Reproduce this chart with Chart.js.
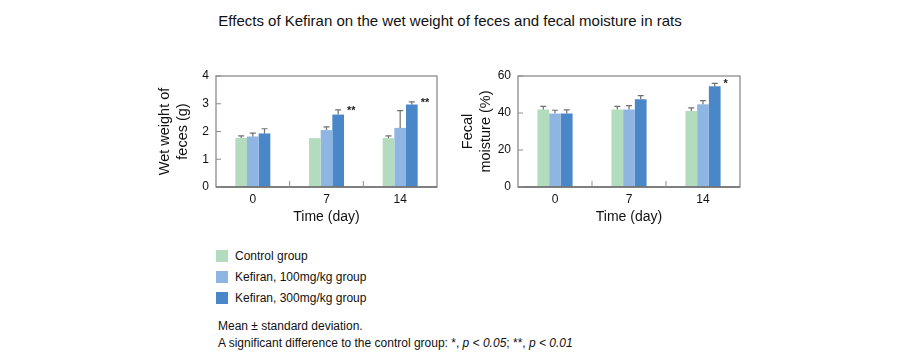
<!DOCTYPE html>
<html>
<head>
<meta charset="utf-8">
<script src="https://cdn.jsdelivr.net/npm/chart.js@4.4.1/dist/chart.umd.min.js"></script>
<style>
  html, body { margin:0; padding:0; background:#fff; width:900px; height:361px; overflow:hidden;
    font-family:"Liberation Sans", Arial, sans-serif; color:#111; }
  #title { position:absolute; left:0; top:11px; width:900px; text-align:center; font-size:15px; line-height:20px; }
  .cv { position:absolute; }
  #c1 { left:130px; top:56px; }
  #c2 { left:440px; top:56px; }
  #legend { position:absolute; left:216px; top:245px; font-size:12px; }
  .li { height:21px; display:flex; align-items:center; }
  .sw { width:12px; height:12px; margin-right:7px; }
  #note { position:absolute; left:218px; top:318px; font-size:12px; line-height:17px; }
</style>
</head>
<body>
<div id="title">Effects of Kefiran on the wet weight of feces and fecal moisture in rats</div>
<canvas id="c1" class="cv" width="320" height="174" style="width:320px;height:174px"></canvas>
<canvas id="c2" class="cv" width="320" height="174" style="width:320px;height:174px"></canvas>
<div id="legend"></div>
<div id="note">Mean ± standard deviation.<br>A significant difference to the control group: *, <i>p &lt; 0.05</i>; **, <i>p &lt; 0.01</i></div>
<script>
// ---- data ----
const days = ['0', '7', '14'];
const groupNames = ['Control group', 'Kefiran, 100mg/kg group', 'Kefiran, 300mg/kg group'];
const groupColors = ['#b3dcbf', '#8fb6e2', '#4a87c9'];

const weightControl = [1.77, 1.76, 1.76];
const weight100     = [1.82, 2.05, 2.13];
const weight300     = [1.93, 2.61, 2.97];
const weightControlSD = [0.07, 0.0, 0.08];
const weight100SD     = [0.12, 0.12, 0.62];
const weight300SD     = [0.17, 0.17, 0.10];
const weightSig = ['', '**', '**'];
const weightTicks = [0, 1, 2, 3, 4];

const moistControl = [41.9, 41.9, 41.1];
const moist100     = [39.7, 41.9, 44.7];
const moist300     = [39.7, 47.4, 54.4];
const moistControlSD = [1.7, 1.7, 1.7];
const moist100SD     = [1.8, 2.1, 2.0];
const moist300SD     = [2.0, 2.0, 1.6];
const moistSig = ['', '', '*'];
const moistTicks = [0, 20, 40, 60];

// ---- legend ----
const lg = document.getElementById('legend');
groupNames.forEach((n, i) => {
  const d = document.createElement('div'); d.className = 'li';
  d.innerHTML = '<span class="sw" style="background:' + groupColors[i] + '"></span><span>' + n + '</span>';
  lg.appendChild(d);
});

const FONT = '"Liberation Sans", Arial, sans-serif';

const framePlugin = {
  id: 'frame',
  afterDatasetsDraw(chart, args, opts) {
    const ctx = chart.ctx, a = chart.chartArea;
    const xs = chart.scales.x, ys = chart.scales.y;
    ctx.save();
    // error bars
    ctx.strokeStyle = '#707070';
    ctx.lineWidth = 1.2;
    chart.data.datasets.forEach((ds, di) => {
      const meta = chart.getDatasetMeta(di);
      meta.data.forEach((el, i) => {
        const sd = ds.sd[i];
        if (!sd) return;
        const y0 = ys.getPixelForValue(ds.data[i]);
        const y1 = ys.getPixelForValue(ds.data[i] + sd);
        ctx.beginPath();
        ctx.moveTo(el.x, y0); ctx.lineTo(el.x, y1);
        ctx.moveTo(el.x - 3, y1); ctx.lineTo(el.x + 3, y1);
        ctx.stroke();
      });
    });
    // significance marks
    const last = chart.data.datasets.length - 1;
    const lds = chart.data.datasets[last];
    const lmeta = chart.getDatasetMeta(last);
    ctx.fillStyle = '#222';
    ctx.font = 'bold 11px ' + FONT;
    ctx.textBaseline = 'middle';
    ctx.textAlign = 'left';
    opts.sig.forEach((s, i) => {
      if (!s) return;
      const el = lmeta.data[i];
      const y = ys.getPixelForValue(lds.data[i] + lds.sd[i]);
      ctx.fillText(s, el.x + el.width / 2 + 3, y + 1);
    });
    // frame
    ctx.strokeStyle = '#8c8c8c';
    ctx.lineWidth = 1.3;
    ctx.strokeRect(a.left, a.top, a.right - a.left, a.bottom - a.top);
    ctx.strokeStyle = '#6e6e6e';
    ctx.lineWidth = 1.6;
    ctx.beginPath(); ctx.moveTo(a.left, a.bottom); ctx.lineTo(a.right, a.bottom); ctx.stroke();
    // inward y ticks
    ctx.lineWidth = 1;
    ctx.strokeStyle = '#8c8c8c';
    ys.ticks.forEach(t => {
      const y = ys.getPixelForValue(t.value);
      ctx.beginPath(); ctx.moveTo(a.left, y); ctx.lineTo(a.left + 5, y); ctx.stroke();
    });
    // category separators
    for (let i = 1; i < chart.data.labels.length; i++) {
      const x = (xs.getPixelForValue(i - 1) + xs.getPixelForValue(i)) / 2;
      ctx.beginPath(); ctx.moveTo(x, a.bottom); ctx.lineTo(x, a.bottom - 6); ctx.stroke();
    }
    ctx.restore();
  }
};

function makeChart(id, vals, sds, sig, ticks, yTitle, yAxisWidth, titlePad, padRight) {
  const datasets = vals.map((v, i) => ({
    label: groupNames[i], data: v, sd: sds[i],
    backgroundColor: groupColors[i], borderWidth: 0,
    categoryPercentage: 0.475, barPercentage: 1.0
  }));
  return new Chart(document.getElementById(id), {
    type: 'bar',
    data: { labels: days, datasets },
    plugins: [framePlugin],
    options: {
      responsive: false, animation: false,
      layout: { padding: { top: 20, right: padRight, left: 0, bottom: 0 } },
      plugins: { legend: { display: false }, tooltip: { enabled: false }, frame: { sig } },
      scales: {
        x: {
          grid: { display: false, drawTicks: false }, border: { display: false },
          ticks: { color: '#111', font: { size: 12, family: FONT }, padding: 5 },
          title: { display: true, text: 'Time (day)', color: '#111', font: { size: 14, family: FONT }, padding: { top: 2, bottom: 4 } },
          afterFit(s) { s.height = 43; }
        },
        y: {
          min: ticks[0], max: ticks[ticks.length - 1],
          afterBuildTicks(s) { s.ticks = ticks.map(v => ({ value: v })); },
          grid: { display: false, drawTicks: false }, border: { display: false },
          ticks: { color: '#111', font: { size: 12, family: FONT }, padding: 7 },
          title: { display: true, text: yTitle, color: '#111', font: { size: 14.5, family: FONT, lineHeight: 1.25 }, padding: { top: titlePad, bottom: 0 } },
          afterFit(s) { s.width = yAxisWidth; }
        }
      }
    }
  });
}

makeChart('c1', [weightControl, weight100, weight300], [weightControlSD, weight100SD, weight300SD],
  weightSig, weightTicks, ['Wet weight of', 'feces (g)'], 86, 26, 13);
makeChart('c2', [moistControl, moist100, moist300], [moistControlSD, moist100SD, moist300SD],
  moistSig, moistTicks, ['Fecal', 'moisture (%)'], 78, 19, 20);
</script>
</body>
</html>
